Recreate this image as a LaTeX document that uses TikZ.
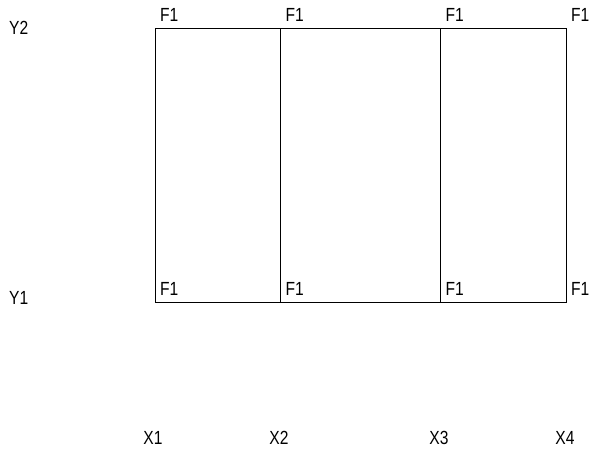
\documentclass[tikz,border=0pt]{standalone}
\usepackage{fontspec}
\setmainfont{Liberation Sans}[FakeStretch=0.82]
\begin{document}
\begin{tikzpicture}[x=1pt,y=-1pt,
  lbl/.style={inner sep=0pt,font=\fontsize{19}{22}\selectfont},
  flbl/.style={lbl,anchor=base west,xshift=5pt,yshift=7pt},
  frame/.style={line width=1pt,draw=black}]
\useasboundingbox[fill=white] (0,0) rectangle (592,453);
\coordinate (a1) at (155,28.5);
\coordinate (a2) at (280.5,28.5);
\coordinate (a3) at (440.5,28.5);
\coordinate (a4) at (566,28.5);
\coordinate (b1) at (155,302.5);
\coordinate (b2) at (280.5,302.5);
\coordinate (b3) at (440.5,302.5);
\coordinate (b4) at (566,302.5);
\draw[frame] (a1) rectangle (b4);
\draw[frame] (a2) -- (b2);
\draw[frame] (a3) -- (b3);
\foreach \p in {a1,a2,a3,a4,b1,b2,b3,b4}{
  \node[flbl] (f\p) at (\p) {F1};
}
\node[lbl,anchor=west] (y2) at (9,28) {Y2};
\node[lbl,anchor=west] (y1) at (9,298) {Y1};
\node[lbl] (x1) at (153,438) {X1};
\node[lbl] (x2) at (279,438) {X2};
\node[lbl] (x3) at (439,438) {X3};
\node[lbl] (x4) at (565,438) {X4};
\end{tikzpicture}
\end{document}
